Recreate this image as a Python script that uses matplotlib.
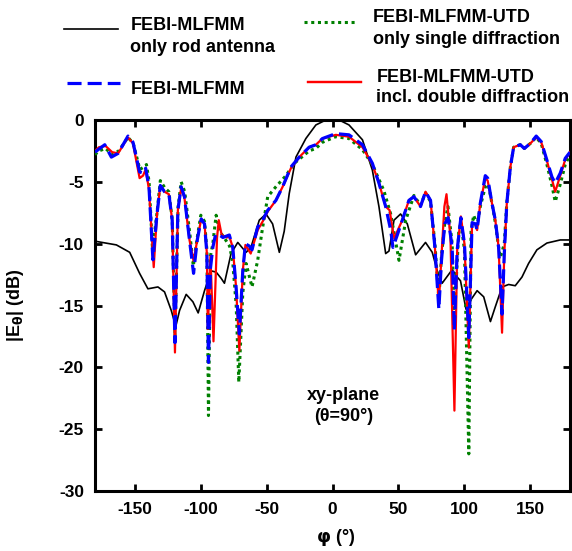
import matplotlib
matplotlib.use("Agg")
import matplotlib.pyplot as plt

plt.rcParams['font.family'] = ['Liberation Sans', 'DejaVu Sans']
plt.rcParams['font.weight'] = 'bold'
plt.rcParams['axes.unicode_minus'] = False

# ---- data (phi in degrees, |E_theta| in dB) ----
rod_phi = [-180, -163.8, -153.7, -146.2, -139.9, -132.3, -127.3, -122.2, -118.8, -115.9, -110.9,
           -105.8, -101.8, -97, -92, -88.2, -84.4, -81.9, -76.9, -71.8, -65.5, -61.8, -55.5, -50.4,
           -45.4, -40.3, -36.6, -32.8, -27.7, -20.2, -12.6, -5, 0, 5, 12.5, 22.7, 30.2, 35.2, 40.3,
           42.8, 46.6, 51.6, 56.7, 63, 70.5, 75.6, 79.4, 83.1, 90.7, 94.5, 97, 101.2, 104.5, 109.6,
           114.6, 119.7, 123.4, 128.5, 133.5, 138.5, 143.6, 148.6, 154.9, 162.5, 172.6, 180]
rod_db = [-9.8, -10.1, -10.7, -12.4, -13.65, -13.5, -13.9, -15.4, -16.7, -15.4, -14.1,
          -14.7, -15.6, -13.8, -12.2, -12.3, -12.8, -13.2, -10.8, -9.9, -10.7, -10.3, -8.1, -7.6,
          -8.4, -10.7, -9.0, -5.95, -3.0, -1.5, -0.4, 0.0, 0.0, 0.0, -0.4, -1.6, -4.05, -7.0, -10.8,
          -10.6, -8.1, -7.6, -8.4, -10.9, -9.9, -10.7, -12.2, -13.2, -12.1, -12.7, -13.0, -15.3, -14.6, -13.8,
          -14.3, -16.3, -15.1, -13.5, -13.3, -13.4, -12.7, -11.6, -10.5, -9.95, -9.7, -9.7]

mlfmm_phi = [-180, -177.6, -172.6, -167.6, -162.5, -155, -151.2, -146.2, -143.6, -141.6, -139.1,
             -136.1, -133, -130.5, -127.3, -124, -121.5, -119.4, -117.2, -114.7, -112.2, -108.4,
             -105.3, -102.5, -99.5, -97, -95.2, -94, -92.5, -90.7, -88.7, -86.9, -83.1, -78.2, -75.6,
             -73.1, -70.6, -68, -66, -63, -61, -56.7, -52.9, -49.1, -42.9, -37.8, -31.5, -25.2, -17.7,
             -12.6, -7.6, 2.5, 12.5, 22.7, 30.2, 35.2, 40.3, 44.1, 45.8, 49.1, 52.9, 57.9, 61.7, 66.7,
             70.5, 74.3, 77.6, 80.6, 82.6, 85.1, 87.6, 90.7, 92.3, 94.5, 97.3, 100, 103.3, 105.8, 108.3,
             109.6, 112, 115.8, 117.6, 120.9, 123.4, 125.9, 128.5, 130.2, 132.1, 134.8, 137.3, 142.3,
             145.4, 149.9, 154.4, 158.2, 162.5, 166.3, 168.8, 172.6, 176.4, 180]
mlfmm_db = [-2.6, -2.4, -2.0, -3.0, -2.7, -1.3, -1.8, -4.2, -4.3, -3.9, -5.4,
            -11.3, -7.6, -5.3, -5.8, -6.0, -8.1, -18.0, -7.3, -5.4, -6.2, -9.7,
            -12.4, -9.7, -8.0, -8.4, -10.8, -19.6, -12.0, -10.3, -9.3, -9.2, -9.5, -9.3, -10.3,
            -13.5, -17.3, -12.2, -10.0, -10.2, -10.5, -8.65, -8.1, -7.3, -6.5, -5.4, -3.8, -3.0, -2.2,
            -2.0, -1.5, -1.1, -1.2, -2.0, -3.5, -5.1, -7.0, -8.9, -10.3, -9.3, -8.1, -6.5, -6.2, -7.0,
            -5.8, -6.5, -10.3, -15.3, -11.35, -8.4, -7.9, -10.3, -17.0, -10.5, -7.9, -10.0, -17.6, -8.3, -8.4,
            -8.9, -6.75, -4.5, -4.7, -6.75, -8.1, -10.3, -15.7, -10.8, -6.75, -3.8, -2.2, -2.0,
            -2.3, -1.9, -1.3, -1.75, -3.25, -4.6, -5.1, -4.3, -3.1, -2.6]

single_phi = [-180, -177, -172, -167, -162, -155, -151, -146, -143, -141, -139, -136.4, -133,
              -130.5, -127, -124, -121.5, -119.4, -117, -114.7, -112, -108, -105.5, -102.5, -99.8,
              -97, -95.2, -94, -92.5, -90.7, -88.2, -85.5, -81, -78, -75.6, -73, -71, -68, -65.5,
              -61, -56.7, -52.9, -49.1, -42.9, -35.3, -28.9, -17.7, -12.6, -7.6, 2.5, 12.5, 22.7,
              30.2, 35.2, 38.9, 44.1, 50.4, 55.5, 61.7, 66.7, 70.5, 74.3, 77.6, 80.6, 82.6, 85.1,
              87.5, 90.7, 92.3, 95.7, 97.3, 100, 103.3, 105, 107, 109.6, 112, 115.8, 118, 121, 123.4,
              125.9, 127.3, 130.2, 132.1, 134.8, 137.3, 142.3, 145.4, 149.9, 154.4, 158.2, 162.5,
              166.3, 168.8, 172.6, 176.4, 180]
single_db = [-2.8, -2.5, -2.3, -2.8, -2.5, -1.4, -1.9, -4.0, -3.8, -3.6, -5.0, -10.5, -7.5,
             -4.9, -5.5, -5.8, -8.0, -17.5, -7.0, -5.0, -5.8, -9.3, -11.8, -9.5, -7.7,
             -8.2, -10.5, -23.9, -11.0, -10.0, -7.7, -9.0, -9.7, -10.2, -11.5, -15.0, -21.2, -14.0, -11.6,
             -13.5, -11.35, -8.65, -6.2, -5.4, -4.5, -3.5, -2.5, -2.3, -1.8, -1.35, -1.5, -2.4,
             -3.6, -4.8, -5.7, -7.6, -11.35, -8.1, -6.1, -6.9, -5.9, -6.6, -10.0, -14.5, -11.0, -8.3,
             -7.0, -10.0, -16.0, -9.0, -8.3, -10.5, -27.0, -9.0, -7.7, -8.5, -7.0, -5.4, -5.2, -6.8, -8.3,
             -10.3, -11.1, -10.0, -6.7, -3.8, -2.2, -2.0, -2.3, -1.9, -1.4, -1.9, -3.6,
             -5.3, -6.6, -5.2, -3.6, -2.8]

double_phi = [-180, -177, -172, -167, -162.5, -155, -151.2, -146.2, -143.6, -141.6, -139.1,
              -135.5, -133, -130.5, -127.3, -124, -121.5, -119.4, -117.2, -114.7, -112.2, -108.4,
              -105.3, -102.5, -99.5, -97, -95.2, -94.5, -92.5, -90.2, -87.5, -86.2, -84, -80, -78.2,
              -75.6, -73.1, -70.6, -68, -66, -62, -56.7, -52.9, -49.1, -42.9, -37.8, -31.5, -25.2,
              -17.7, -12.6, -7.6, 2.5, 12.5, 22.7, 30.2, 35.2, 40.3, 43.3, 45.8, 47, 49.1, 52.9,
              57.9, 61.7, 66.7, 70.5, 74.3, 77.6, 80.6, 82.6, 84.8, 86.4, 89.4, 92.4, 94.5, 97.3, 100,
              103.3, 105.8, 108.3, 109.6, 112, 115.8, 117.6, 120.9, 123.4, 125.9, 128.5, 130.2, 132.1,
              134.8, 137.3, 142.3, 145.4, 149.9, 154.4, 158.2, 162.5, 166.3, 168.8, 172.6, 176.4, 180]
double_db = [-2.5, -2.2, -2.1, -2.6, -2.7, -1.4, -1.9, -4.7, -4.5, -4.0, -5.6,
             -11.9, -7.6, -5.3, -5.8, -6.0, -8.1, -18.8, -7.3, -5.5, -6.3, -9.7,
             -11.4, -9.7, -8.0, -8.4, -10.8, -16.9, -11.0, -17.9, -9.5, -8.1, -9.3, -9.5, -9.4,
             -10.3, -13.5, -18.65, -12.2, -10.1, -10.8, -8.9, -8.2, -7.4, -6.5, -5.4, -3.9, -3.0,
             -2.2, -2.0, -1.5, -1.2, -1.35, -2.2, -3.6, -5.1, -7.0, -7.3, -9.0, -9.6, -9.0, -8.1,
             -6.5, -6.2, -7.0, -5.8, -6.5, -10.3, -14.8, -11.0, -7.0, -6.0, -9.5, -23.5, -10.5, -7.8, -10.0,
             -18.4, -8.3, -8.4, -8.9, -6.75, -4.7, -4.9, -6.75, -8.1, -10.3, -17.2, -10.8, -6.75,
             -3.8, -2.2, -2.0, -2.3, -1.9, -1.4, -1.8, -3.3, -4.8, -5.8, -4.5, -3.2, -2.6]

x_ticks = [-150, -100, -50, 0, 50, 100, 150]
y_ticks = [0, -5, -10, -15, -20, -25, -30]

W, H = 572, 551
FS = 13
fig = plt.figure(figsize=(W / 100, H / 100), dpi=100)
ax = fig.add_axes([95 / W, 1 - 491 / H, (570 - 95) / W, (491 - 120) / H])

l_rod, = ax.plot(rod_phi, rod_db, color='black', lw=1.2, zorder=2)
l_single, = ax.plot(single_phi, single_db, color='#008000', lw=2.2, ls=(0, (1, 1.2)), zorder=3)
l_double, = ax.plot(double_phi, double_db, color='red', lw=1.6, zorder=4)
l_mlfmm, = ax.plot(mlfmm_phi, mlfmm_db, color='blue', lw=2.3, ls=(0, (4.4, 1.9)), zorder=5)

ax.set_xlim(-180, 180)
ax.set_ylim(-30, 0)
ax.set_xticks(x_ticks)
ax.set_yticks(y_ticks)
ax.tick_params(direction='in', length=5, width=2, top=True, right=True,
               labelsize=12.5, pad=8)
for lab in ax.get_xticklabels() + ax.get_yticklabels():
    lab.set_fontweight('bold')
for s in ax.spines.values():
    s.set_linewidth(2.2)

ax.set_xlabel(r'$\boldsymbol{\varphi}$ (°)', fontsize=FS, fontweight='bold')
ax.xaxis.set_label_coords(0.507, -0.098)
ax.set_ylabel(r'|E$_{\mathbf{\theta}}$| (dB)', fontsize=FS, fontweight='bold')
ax.yaxis.set_label_coords(-0.145, 0.5)

ax.text(8.5, -23.1, 'xy-plane\n(θ=90°)', ha='center', va='center', fontsize=FS,
        fontweight='bold', linespacing=1.3)

# legend: handles via legend objects, text lines placed separately
handles = [
    (l_rod, 64, 30.7, 2.97),
    (l_mlfmm, 66.5, 85, 2.96),
    (l_single, 304.5, 24, 2.88),
    (l_double, 308, 84.3, 2.93),
]
for h, px, py, hl in handles:
    leg = ax.legend([h], [''], loc='center left', bbox_to_anchor=(px / W, 1 - py / H),
                    bbox_transform=fig.transFigure, frameon=False, borderpad=0,
                    borderaxespad=0, handlelength=hl, handletextpad=0,
                    prop={'size': FS, 'weight': 'bold'})
    ax.add_artist(leg)

legend_texts = [
    ('FEBI-MLFMM', 130.5, 30.5),
    ('only rod antenna', 130.5, 52),
    ('FEBI-MLFMM', 130.5, 94),
    ('FEBI-MLFMM-UTD', 373, 22),
    ('only single diffraction', 373, 43.5),
    ('FEBI-MLFMM-UTD', 376.5, 81.7),
    ('incl. double diffraction', 376.5, 102),
]
for txt, px, py in legend_texts:
    fig.text(px / W, 1 - py / H, txt, ha='left', va='baseline', fontsize=FS, fontweight='bold')

fig.savefig('out.png', dpi=100)
